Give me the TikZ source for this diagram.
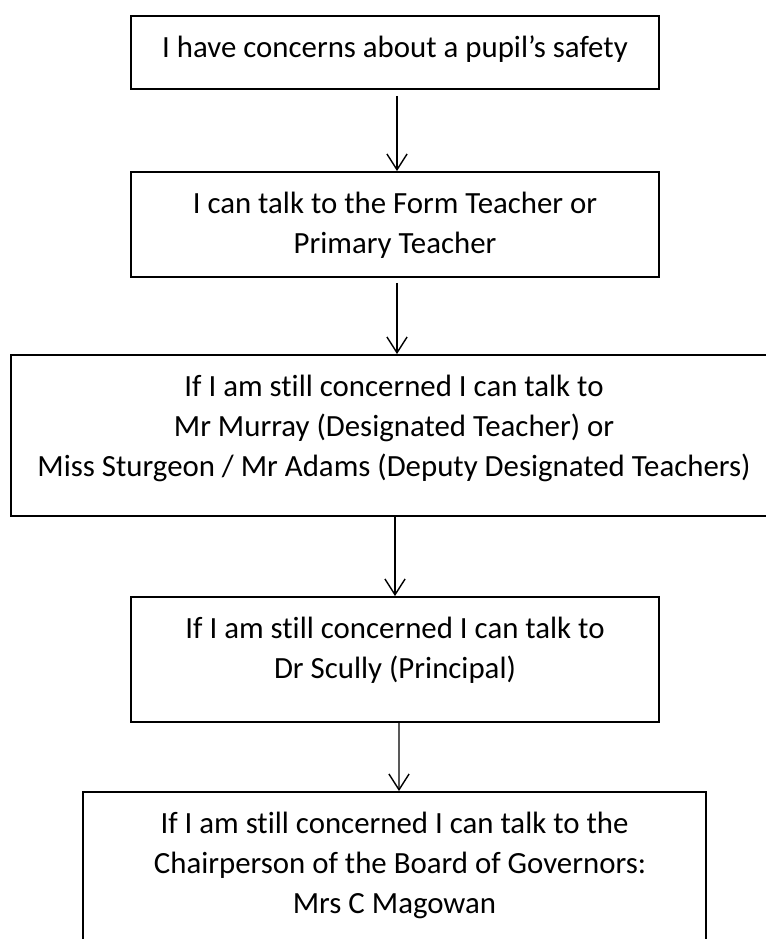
\documentclass[tikz,border=0pt]{standalone}
\usepackage{fontspec}
\setmainfont{Carlito}[Ligatures=CommonOff]
\usetikzlibrary{arrows.meta}

\tikzset{
  box/.style={draw, line width=1.1pt, rectangle, inner sep=0pt},
  boxtext/.style={anchor=north, inner sep=0pt, align=center, yshift=-0.41cm,
    font=\fontsize{17.55pt}{22.8pt}\selectfont},
  arr/.style={line width=0.8pt, -{Straight Barb[length=9pt,width=11.5pt]}}
}

\begin{document}
\begin{tikzpicture}[x=0.02cm, y=-0.02cm]
    % Page frame in pixels of the reference
    \useasboundingbox (0,0) rectangle (766,939);

    % The five boxes, from top to bottom
    \node[box, minimum width=10.56cm, minimum height=1.46cm] (concern) at (395,52.5) {};
    \node[box, minimum width=10.56cm, minimum height=2.1cm] (formteacher) at (395,224.5) {};
    \node[box, minimum width=15.32cm, minimum height=3.22cm] (designated) at (394,435.5) {};
    \node[box, minimum width=10.56cm, minimum height=2.5cm] (principal) at (395,659.5) {};
    \node[box, minimum width=12.46cm, minimum height=3.2cm] (governors) at (394.5,872) {};

    % Texts, set at the top of each box
    \node[boxtext] (concerntext) at (concern.north) {I have concerns about a pupil’s safety};
    \node[boxtext] (formteachertext) at (formteacher.north) {I can talk to the Form Teacher or\\Primary Teacher};
    \node[boxtext] (designatedtext) at (designated.north) {If I am still concerned I can talk to\\Mr Murray (Designated Teacher) or\\Miss Sturgeon / Mr Adams (Deputy Designated Teachers)};
    \node[boxtext] (principaltext) at (principal.north) {If I am still concerned I can talk to\\Dr Scully (Principal)};
    \node[boxtext] (governorstext) at (governors.north) {If I am still concerned I can talk to the\\\hspace*{0.22cm}Chairperson of the Board of Governors:\\Mrs C Magowan};

    % Arrows between the boxes
    \draw[arr] ([shift={(2,6)}]concern.south) -- ([shift={(2,0)}]formteacher.north);
    \draw[arr] ([shift={(2,5)}]formteacher.south) -- ([shift={(3,0)}]designated.north);
    \draw[arr] ([shift={(1,0)}]designated.south) -- ([shift={(0,0)}]principal.north);
    \draw[arr] ([shift={(4,0)}]principal.south) -- ([shift={(4.5,0)}]governors.north);

\end{tikzpicture}
\end{document}
